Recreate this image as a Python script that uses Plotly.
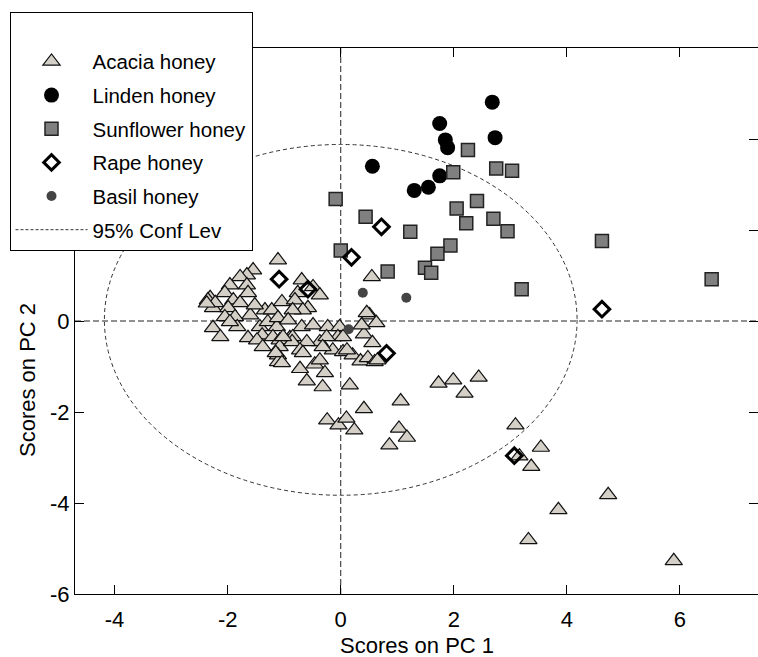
import plotly.graph_objects as go

# ---------------- data ----------------
acacia_x = [-1.11, -1.55, -1.66, -1.78, -1.96, -1.66, -1.64, -2.05, -2.31, -2.26, -1.90, -1.78,
            -1.99, -1.60, -1.87, -2.05, -2.26, -2.13, -1.83, -1.96, -1.34, -1.22, -1.43, -1.29,
            -1.39, -1.13, -1.04, -1.11, -1.20, -1.64, -1.48, -2.35, -2.22, -1.52, -2.37,
            -0.69, -0.49, -0.37, -0.76, -0.81, -0.58, -0.67, -0.85, -0.93, -0.69, -0.49, -0.23,
            -0.02, -0.37, -0.60, -0.90, -0.05, -1.08, -0.85, -0.25, -1.08, -1.11, -1.11, -0.86,
            -1.38, -1.15, -0.72, -0.14, 0.04, 0.21, 0.35, 0.48, 0.60, 0.41, 0.56, 0.04,
            -0.72, -0.60, -0.32, -0.28, -0.46, -0.67, -0.37, -0.32, -1.04, -1.02, 0.51, 0.46,
            0.63, 0.37, 0.65, 0.11, 0.55,
            0.16, 0.41, 1.06, -0.24, -0.04, 0.10, 0.24, 1.03, 1.17, 0.86, 1.73, 1.99,
            2.44, 2.19, 3.09, 3.54, 3.37, 3.16, 4.73, 3.85, 3.32, 5.89]
acacia_y = [1.34, 1.12, 1.01, 0.97, 0.79, 0.79, 0.62, 0.62, 0.51, 0.29, 0.46, 0.40,
            0.29, 0.13, 0.09, 0.09, -0.15, -0.35, -0.13, -0.02, 0.24, 0.24, -0.13, -0.02,
            -0.31, -0.13, 0.42, 0.07, -0.35, -0.37, -0.42, 0.46, 0.40, 0.35, 0.39,
            0.90, 0.75, 0.57, 0.62, 0.46, 0.29, 0.24, 0.24, 0.02, -0.13, -0.09, -0.13,
            -0.13, -0.46, -0.46, -0.37, -0.35, -0.42, -0.35, -0.35, -0.57, -0.75, -0.90, -0.46,
            -0.57, -0.70, -0.64, -0.64, -0.68, -0.75, -0.88, -0.81, -0.90, -0.29, -0.48, -0.35,
            -1.05, -1.32, -1.45, -1.14, -0.95, -0.70, -0.86, -0.57, -0.92, -0.35, 0.13, 0.18,
            -0.04, -0.09, -0.86, -0.64, 0.97,
            -1.41, -1.93, -1.76, -2.18, -2.29, -2.14, -2.40, -2.36, -2.56, -2.73, -1.37, -1.30,
            -1.24, -1.59, -2.29, -2.78, -3.20, -2.97, -3.82, -4.15, -4.81, -5.27]

linden_x = [2.68, 1.75, 1.85, 1.89, 2.73, 0.56, 1.75, 1.55, 1.30]
linden_y = [4.81, 4.34, 3.98, 3.81, 4.03, 3.40, 3.19, 2.94, 2.87]

sunflower_x = [2.25, 1.99, 2.75, 3.03, 2.41, 2.05, 2.22, 2.70, 2.95, 0.44, 1.23,
               1.94, 1.71, 1.49, 1.60, 0.83, 3.20, 4.62, 6.56, -0.09, 0.00]
sunflower_y = [3.76, 3.27, 3.35, 3.30, 2.64, 2.47, 2.15, 2.25, 1.97, 2.29, 1.96,
               1.66, 1.48, 1.17, 1.06, 1.09, 0.70, 1.76, 0.92, 2.68, 1.55]

rape_x = [0.72, 0.19, 4.62, -1.09, -0.58, 0.81, 3.07]
rape_y = [2.07, 1.40, 0.26, 0.92, 0.70, -0.71, -2.96]

basil_x = [0.39, 1.16, 0.14]
basil_y = [0.62, 0.51, -0.18]

# 95% confidence ellipse extents
ell_x = [-4.18, 4.18]
ell_y = [-3.83, 3.88]

x_ticks = [-4, -2, 0, 2, 4, 6]
x_tick_labels = ["-4", "-2", "0", "2", "4", "6"]
y_ticks = [-6, -4, -2, 0, 2, 4, 6]
y_tick_labels = ["-6", "-4", "-2", "0", "2", "4", "6"]

FONT = "Arial, 'Liberation Sans', sans-serif"
W, H = 758, 657

fig = go.Figure()
fig.add_trace(go.Scatter(x=acacia_x, y=acacia_y, mode="markers", name="Acacia honey",
                         legendgroup="a",
                         marker=dict(symbol="triangle-up", size=15, color="#d4d0c8",
                                     line=dict(color="#111111", width=1.2))))
fig.add_trace(go.Scatter(x=linden_x, y=linden_y, mode="markers", name="Linden honey",
                         legendgroup="b",
                         marker=dict(symbol="circle", size=15, color="#000000",
                                     line=dict(width=0))))
fig.add_trace(go.Scatter(x=sunflower_x, y=sunflower_y, mode="markers", name="Sunflower honey",
                         legendgroup="c",
                         marker=dict(symbol="square", size=13, color="#808080",
                                     line=dict(color="#222222", width=1.5))))
fig.add_trace(go.Scatter(x=rape_x, y=rape_y, mode="markers", name="Rape honey",
                         legendgroup="d",
                         marker=dict(symbol="diamond-open", size=12, color="#000000",
                                     line=dict(color="#000000", width=3))))
fig.add_trace(go.Scatter(x=basil_x, y=basil_y, mode="markers", name="Basil honey",
                         legendgroup="e",
                         marker=dict(symbol="circle", size=10, color="#444444",
                                     line=dict(width=0))))
# legend entry for the confidence ellipse (the ellipse itself is a layout shape)
fig.add_trace(go.Scatter(x=[None], y=[None], mode="lines", name="95% Conf Lev",
                         legendgroup="f",
                         line=dict(color="#333333", width=1, dash="3px,2px")))

shapes = [
    dict(type="line", xref="x", yref="y domain", x0=0, x1=0, y0=0, y1=1,
         line=dict(color="#222222", width=1, dash="6px,3px"), layer="below"),
    dict(type="line", xref="x domain", yref="y", x0=0, x1=1, y0=0, y1=0,
         line=dict(color="#222222", width=1, dash="6px,3px"), layer="below"),
    dict(type="circle", xref="x", yref="y", x0=ell_x[0], x1=ell_x[1], y0=ell_y[0], y1=ell_y[1],
         line=dict(color="#333333", width=1, dash="4px,3px"), layer="below"),
]

axis_common = dict(showline=True, linecolor="black", linewidth=1, mirror="ticks",
                   ticks="inside", ticklen=9, tickwidth=1, tickcolor="black",
                   showgrid=False, zeroline=False, automargin=False,
                   tickfont=dict(family=FONT, size=22, color="black"))

fig.update_layout(
    width=W, height=H,
    margin=dict(l=0, r=0, t=0, b=0, pad=0, autoexpand=False),
    paper_bgcolor="white", plot_bgcolor="white",
    font=dict(family=FONT, color="black"),
    xaxis=dict(domain=[75 / W, 1.0], range=[-4.70, 7.38], tickvals=x_ticks,
               ticktext=x_tick_labels, ticklabelstandoff=6, **axis_common),
    yaxis=dict(domain=[63 / H, 609 / H], range=[-6, 6], tickvals=y_ticks,
               ticktext=y_tick_labels, **axis_common),
    shapes=shapes,
    showlegend=True,
    legend=dict(x=9.5 / W, y=1 - 12 / H, xanchor="left", yanchor="top",
                bgcolor="white", bordercolor="black", borderwidth=1,
                font=dict(family=FONT, size=20.5, color="black"),
                itemwidth=72, tracegroupgap=4,
                title=dict(text="\u00a0", font=dict(size=22))),
    annotations=[
        dict(text="Scores on PC 1", xref="paper", yref="paper", x=417 / W, y=1 - 645 / H,
             xanchor="center", yanchor="middle",
             showarrow=False, font=dict(family=FONT, size=22, color="black")),
        dict(text="Scores on PC 2", xref="paper", yref="paper", x=27 / W, y=1 - 380 / H,
             xanchor="center", yanchor="middle",
             textangle=-90, showarrow=False, font=dict(family=FONT, size=22, color="black")),
    ],
)

fig.write_html("out.html")
